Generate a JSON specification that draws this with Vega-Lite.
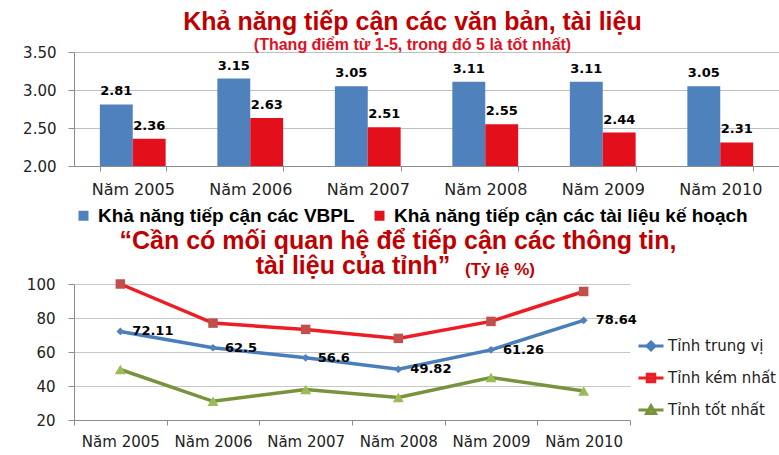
{
  "$schema": "https://vega.github.io/schema/vega-lite/v6.json",
  "background": "white",
  "padding": {"left": 22, "top": 10, "right": 0, "bottom": 0},
  "spacing": 3,
  "config": {"view": {"stroke": null}},
  "resolve": {"scale": {"color": "independent"}, "legend": {"color": "independent"}},
  "datasets": {
    "bars": [
      {"year": "Năm 2005", "series": "Khả năng tiếp cận các VBPL", "value": 2.81},
      {"year": "Năm 2005", "series": "Khả năng tiếp cận các tài liệu kế hoạch", "value": 2.36},
      {"year": "Năm 2006", "series": "Khả năng tiếp cận các VBPL", "value": 3.15},
      {"year": "Năm 2006", "series": "Khả năng tiếp cận các tài liệu kế hoạch", "value": 2.63},
      {"year": "Năm 2007", "series": "Khả năng tiếp cận các VBPL", "value": 3.05},
      {"year": "Năm 2007", "series": "Khả năng tiếp cận các tài liệu kế hoạch", "value": 2.51},
      {"year": "Năm 2008", "series": "Khả năng tiếp cận các VBPL", "value": 3.11},
      {"year": "Năm 2008", "series": "Khả năng tiếp cận các tài liệu kế hoạch", "value": 2.55},
      {"year": "Năm 2009", "series": "Khả năng tiếp cận các VBPL", "value": 3.11},
      {"year": "Năm 2009", "series": "Khả năng tiếp cận các tài liệu kế hoạch", "value": 2.44},
      {"year": "Năm 2010", "series": "Khả năng tiếp cận các VBPL", "value": 3.05},
      {"year": "Năm 2010", "series": "Khả năng tiếp cận các tài liệu kế hoạch", "value": 2.31}
    ],
    "lines": [
      {"year": "Năm 2005", "series": "Tỉnh trung vị", "value": 72.11},
      {"year": "Năm 2006", "series": "Tỉnh trung vị", "value": 62.5},
      {"year": "Năm 2007", "series": "Tỉnh trung vị", "value": 56.6},
      {"year": "Năm 2008", "series": "Tỉnh trung vị", "value": 49.82},
      {"year": "Năm 2009", "series": "Tỉnh trung vị", "value": 61.26},
      {"year": "Năm 2010", "series": "Tỉnh trung vị", "value": 78.64},
      {"year": "Năm 2005", "series": "Tỉnh kém nhất", "value": 100},
      {"year": "Năm 2006", "series": "Tỉnh kém nhất", "value": 77},
      {"year": "Năm 2007", "series": "Tỉnh kém nhất", "value": 73.3},
      {"year": "Năm 2008", "series": "Tỉnh kém nhất", "value": 68},
      {"year": "Năm 2009", "series": "Tỉnh kém nhất", "value": 78},
      {"year": "Năm 2010", "series": "Tỉnh kém nhất", "value": 95.6},
      {"year": "Năm 2005", "series": "Tỉnh tốt nhất", "value": 49.7},
      {"year": "Năm 2006", "series": "Tỉnh tốt nhất", "value": 31},
      {"year": "Năm 2007", "series": "Tỉnh tốt nhất", "value": 38},
      {"year": "Năm 2008", "series": "Tỉnh tốt nhất", "value": 33.3},
      {"year": "Năm 2009", "series": "Tỉnh tốt nhất", "value": 45},
      {"year": "Năm 2010", "series": "Tỉnh tốt nhất", "value": 37}
    ]
  },
  "vconcat": [
    {
      "width": 705,
      "height": 114,
      "data": {"name": "bars"},
      "title": {
        "text": "Khả năng tiếp cận các văn bản, tài liệu",
        "subtitle": "(Thang điểm từ 1-5, trong đó 5 là tốt nhất)",
        "anchor": "middle",
        "frame": "group",
        "dx": -14,
        "offset": -8,
        "font": "Liberation Sans",
        "fontSize": 25,
        "fontWeight": "bold",
        "color": "#c00000",
        "subtitleFont": "Liberation Sans",
        "subtitleFontSize": 16,
        "subtitleFontWeight": "bold",
        "subtitleColor": "#e0101e",
        "subtitlePadding": 2
      },
      "encoding": {
        "x": {
          "field": "year",
          "type": "nominal",
          "sort": null,
          "scale": {"paddingInner": 0.44, "paddingOuter": 0.22},
          "axis": {
            "title": null,
            "labelAngle": 0,
            "labelFont": "DejaVu Sans",
            "labelFontSize": 16,
            "labelColor": "#222222",
            "labelPadding": 10,
            "tickSize": 5,
            "tickBand": "extent",
            "tickColor": "#8c8c8c",
            "domainColor": "#8c8c8c",
            "grid": false
          }
        },
        "xOffset": {
          "field": "series",
          "type": "nominal",
          "sort": ["Khả năng tiếp cận các VBPL", "Khả năng tiếp cận các tài liệu kế hoạch"]
        },
        "y": {
          "field": "value",
          "type": "quantitative",
          "scale": {"domain": [2, 3.5], "zero": false, "nice": false},
          "axis": {
            "title": null,
            "values": [2, 2.5, 3, 3.5],
            "format": ".2f",
            "labelFont": "DejaVu Sans",
            "labelFontSize": 15,
            "labelColor": "#222222",
            "labelPadding": 12,
            "tickSize": 6,
            "tickColor": "#8c8c8c",
            "domainColor": "#8c8c8c",
            "grid": true,
            "gridColor": "#bfbfbf"
          }
        }
      },
      "layer": [
        {
          "mark": {"type": "bar"},
          "encoding": {
            "y2": {"datum": 2},
            "color": {
              "field": "series",
              "type": "nominal",
              "scale": {
                "domain": ["Khả năng tiếp cận các VBPL", "Khả năng tiếp cận các tài liệu kế hoạch"],
                "range": ["#4f81bd", "#e3101c"]
              },
              "legend": {
                "title": null,
                "orient": "bottom",
                "offset": 9,
                "direction": "horizontal",
                "symbolType": "square",
                "symbolSize": 100,
                "symbolStrokeWidth": 0,
                "labelFont": "Liberation Sans",
                "labelFontSize": 19,
                "labelFontWeight": "bold",
                "labelColor": "#000000",
                "labelOffset": 5,
                "labelLimit": 600,
                "columnPadding": 15
              }
            }
          }
        },
        {
          "mark": {
            "type": "text",
            "baseline": "bottom",
            "dy": -6,
            "font": "DejaVu Sans",
            "fontSize": 13,
            "fontWeight": "bold",
            "color": "#000000"
          },
          "encoding": {
            "text": {"field": "value", "type": "quantitative", "format": ".2f"}
          }
        }
      ]
    },
    {
      "width": 556,
      "height": 136,
      "data": {"name": "lines"},
      "title": {
        "text": ["“Cần có mối quan hệ để tiếp cận các thông tin,", "tài liệu của tỉnh”\u2800\u2800\u2800\u2800\u2800"],
        "subtitle": "\u2800\u2800\u2800\u2800\u2800\u2800\u2800\u2800\u2800\u2800\u2800\u2800\u2800\u2800\u2800\u2800\u2800(Tỷ lệ %)",
        "anchor": "middle",
        "frame": "group",
        "dx": 46,
        "offset": -2,
        "font": "Liberation Sans",
        "fontSize": 25,
        "fontWeight": "bold",
        "lineHeight": 25,
        "color": "#c00000",
        "subtitleFont": "Liberation Sans",
        "subtitleFontSize": 17,
        "subtitleFontWeight": "bold",
        "subtitleColor": "#c00000",
        "subtitlePadding": -17
      },
      "encoding": {
        "x": {
          "field": "year",
          "type": "nominal",
          "sort": null,
          "scale": {"paddingInner": 0, "paddingOuter": 0},
          "axis": {
            "title": null,
            "labelAngle": 0,
            "labelFont": "DejaVu Sans",
            "labelFontSize": 15,
            "labelColor": "#222222",
            "labelPadding": 9,
            "tickSize": 5,
            "tickBand": "extent",
            "tickColor": "#8c8c8c",
            "domainColor": "#8c8c8c",
            "grid": false
          }
        },
        "y": {
          "field": "value",
          "type": "quantitative",
          "scale": {"domain": [20, 100], "nice": false, "zero": false},
          "axis": {
            "title": null,
            "values": [20, 40, 60, 80, 100],
            "labelFont": "DejaVu Sans",
            "labelFontSize": 15,
            "labelColor": "#222222",
            "labelPadding": 13,
            "tickSize": 6,
            "tickColor": "#8c8c8c",
            "domainColor": "#8c8c8c",
            "grid": true,
            "gridColor": "#c8c8c8"
          }
        }
      },
      "layer": [
        {
          "mark": {"type": "line", "strokeWidth": 3.5},
          "encoding": {
            "color": {
              "field": "series",
              "type": "nominal",
              "scale": {
                "domain": ["Tỉnh trung vị", "Tỉnh kém nhất", "Tỉnh tốt nhất"],
                "range": ["#4a7ebb", "#ee1c25", "#77933c"]
              },
              "legend": {
                "title": null,
                "orient": "none",
                "legendX": 563,
                "legendY": 48,
                "direction": "vertical",
                "symbolSize": 625,
                "symbolStrokeWidth": 3,
                "labelFont": "DejaVu Sans",
                "labelFontSize": 15,
                "labelColor": "#222222",
                "labelOffset": 3,
                "labelLimit": 400,
                "rowPadding": 8,
                "encode": {
                  "symbols": {
                    "update": {
                      "shape": {"signal": "datum.value === 'Tỉnh trung vị' ? 'M-1,0L1,0M0,-0.32L0.32,0L0,0.32L-0.32,0Z' : datum.value === 'Tỉnh kém nhất' ? 'M-1,0L1,0M-0.3,-0.3L0.3,-0.3L0.3,0.3L-0.3,0.3Z' : 'M-1,0L1,0M0,-0.34L0.36,0.28L-0.36,0.28Z'"},
                      "fill": {"signal": "datum.value === 'Tỉnh trung vị' ? '#4f81bd' : datum.value === 'Tỉnh kém nhất' ? '#c0504d' : '#9bbb59'"},
                      "fillOpacity": {"value": 1},
                      "strokeWidth": {"value": 3}
                    }
                  }
                }
              }
            }
          }
        },
        {
          "mark": {"type": "point", "filled": true, "opacity": 1},
          "encoding": {
            "color": {
              "field": "series",
              "type": "nominal",
              "scale": {
                "domain": ["Tỉnh trung vị", "Tỉnh kém nhất", "Tỉnh tốt nhất"],
                "range": ["#4f81bd", "#c0504d", "#9bbb59"]
              },
              "legend": null
            },
            "shape": {
              "field": "series",
              "type": "nominal",
              "scale": {
                "domain": ["Tỉnh trung vị", "Tỉnh kém nhất", "Tỉnh tốt nhất"],
                "range": ["diamond", "square", "triangle-up"]
              },
              "legend": null
            },
            "size": {
              "field": "series",
              "type": "nominal",
              "scale": {
                "domain": ["Tỉnh trung vị", "Tỉnh kém nhất", "Tỉnh tốt nhất"],
                "range": [60, 120, 110]
              },
              "legend": null
            }
          }
        },
        {
          "transform": [{"filter": "datum.series === 'Tỉnh trung vị'"}],
          "mark": {
            "type": "text",
            "align": "left",
            "baseline": "middle",
            "dx": 12,
            "font": "DejaVu Sans",
            "fontSize": 13,
            "fontWeight": "bold",
            "color": "#000000"
          },
          "encoding": {
            "text": {"field": "value", "type": "quantitative"}
          }
        }
      ],
      "resolve": {"scale": {"color": "independent", "shape": "independent", "size": "independent"}}
    }
  ]
}
